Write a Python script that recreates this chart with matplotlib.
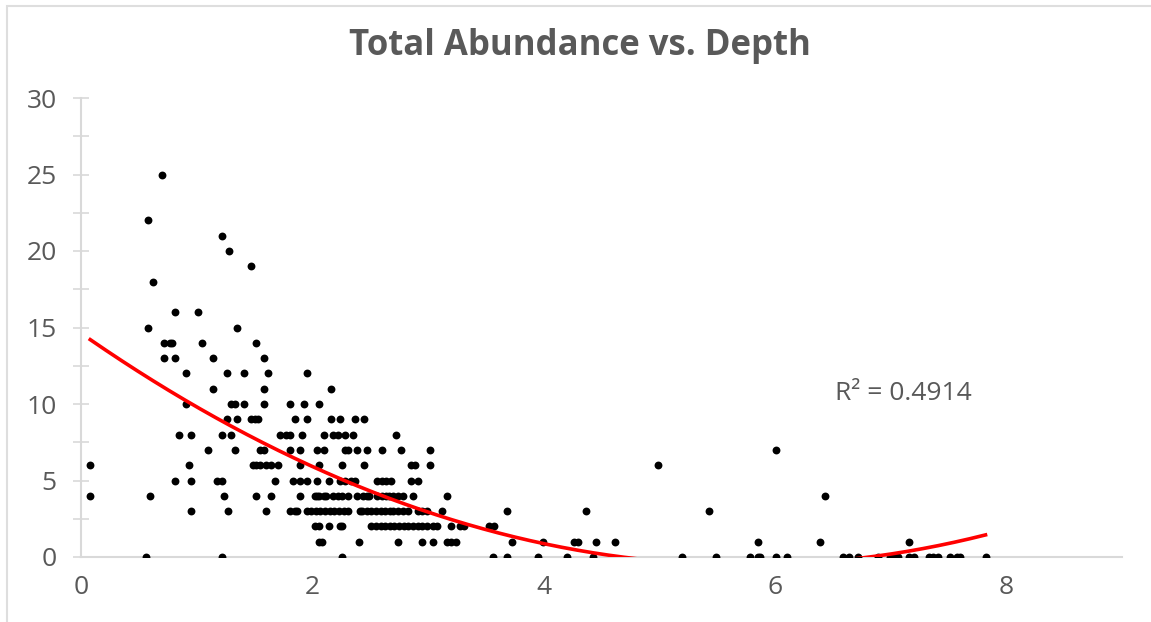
import numpy as np
import matplotlib
matplotlib.use("Agg")
import matplotlib.pyplot as plt
from matplotlib.patches import Rectangle

# ---------------- data (depth values grouped by abundance level) ----------------
levels = [25, 22, 21, 20, 19, 18, 16, 15, 14, 13, 12, 11, 10, 9, 8, 7, 6, 5, 4, 3, 2, 1, 0]

d25 = [0.70]
d22 = [0.58]
d21 = [1.22]
d20 = [1.28]
d19 = [1.47]
d18 = [0.62]
d16 = [0.81, 1.01]
d15 = [0.58, 1.35]
d14 = [0.72, 0.77, 0.79, 1.05, 1.51]
d13 = [0.72, 0.81, 1.14, 1.58]
d12 = [0.91, 1.26, 1.41, 1.62, 1.95]
d11 = [1.14, 1.58, 2.16]
d10 = [0.91, 1.30, 1.33, 1.41, 1.58, 1.81, 1.93, 2.06]
d9 = [1.26, 1.35, 1.47, 1.50, 1.53, 1.85, 1.95, 2.16, 2.24, 2.37, 2.45]
d8 = [0.85, 0.95, 1.22, 1.30, 1.72, 1.77, 1.81, 1.91, 2.10, 2.18, 2.22, 2.28,
      2.35, 2.72]
d7 = [1.10, 1.33, 1.55, 1.58, 1.81, 1.89, 2.04, 2.10, 2.28, 2.31, 2.39, 2.47,
      2.60, 2.77, 3.02, 6.01]
d6 = [0.08, 0.93, 1.49, 1.51, 1.55, 1.60, 1.64, 1.70, 1.89, 2.06, 2.26, 2.45,
      2.85, 2.89, 3.02, 4.99]
d5 = [0.81, 0.95, 1.18, 1.22, 1.68, 1.83, 1.89, 1.95, 2.04, 2.14, 2.24, 2.28,
      2.33, 2.37, 2.56, 2.60, 2.64, 2.68, 2.85, 2.91]
d4 = [0.08, 0.60, 1.24, 1.51, 1.64, 1.89, 2.02, 2.04, 2.06, 2.10, 2.12, 2.18,
      2.22, 2.26, 2.31, 2.39, 2.44, 2.47, 2.49, 2.56, 2.60, 2.64, 2.66, 2.70,
      2.74, 2.78, 2.87, 3.16, 6.43]
d3 = [0.95, 1.27, 1.60, 1.81, 1.85, 1.87, 1.95, 1.99, 2.03, 2.07, 2.11, 2.15,
      2.19, 2.23, 2.27, 2.31, 2.41, 2.43, 2.47, 2.51, 2.55, 2.59, 2.63, 2.67,
      2.70, 2.74, 2.78, 2.83, 2.91, 2.95, 2.99, 3.12, 3.68, 4.37, 5.43]
d2 = [2.02, 2.06, 2.14, 2.24, 2.26, 2.51, 2.55, 2.59, 2.63, 2.67, 2.71, 2.75,
      2.79, 2.83, 2.87, 2.91, 2.95, 2.99, 3.04, 3.08, 3.20, 3.28, 3.31, 3.53,
      3.57]
d1 = [2.06, 2.08, 2.40, 2.74, 2.95, 3.04, 3.16, 3.20, 3.24, 3.73, 3.99, 4.26,
      4.30, 4.45, 4.62, 5.85, 6.39, 7.16]
d0 = [0.56, 1.22, 2.26, 3.56, 3.68, 3.95, 4.20, 4.43, 5.20, 5.49, 5.78, 5.85,
      5.87, 6.01, 6.10, 6.59, 6.64, 6.72, 6.89, 6.99, 7.03, 7.06, 7.16, 7.20,
      7.33, 7.37, 7.41, 7.51, 7.57, 7.60, 7.82]

depth_groups = [d25, d22, d21, d20, d19, d18, d16, d15, d14, d13, d12, d11,
                d10, d9, d8, d7, d6, d5, d4, d3, d2, d1, d0]

# order-2 polynomial trendline coefficients (a, b, c)
trend_coef = [0.4586, -5.272, 14.626]

title_text = "Total Abundance vs. Depth"
r2_label = "R² = 0.4914"
x_ticks = [0, 2, 4, 6, 8]
y_ticks = [0, 5, 10, 15, 20, 25, 30]

depth = np.concatenate([np.asarray(g, float) for g in depth_groups])
abundance = np.concatenate([np.full(len(g), lv, float)
                            for g, lv in zip(depth_groups, levels)])

# ---------------- figure ----------------
W, H = 1151, 622
fig = plt.figure(figsize=(W / 100, H / 100), dpi=100)
fig.patch.set_facecolor("white")

# chart border (top and left visible)
fig.add_artist(Rectangle((7 / W, -0.01), 1.02, (H - 6) / H + 0.01,
                         transform=fig.transFigure, fill=False,
                         edgecolor="#dedede", linewidth=1.5))

ax = fig.add_axes([81 / W, (H - 557) / H, 1041 / W, 459 / H])
ax.set_xlim(0, 9)
ax.set_ylim(0, 30)

grey = "#595959"
axis_grey = "#d9d9d9"

ax.scatter(depth, abundance, s=32, color="black", zorder=3, linewidths=0)

xs = np.linspace(depth.min(), depth.max(), 400)
ax.plot(xs, np.polyval(trend_coef, xs), color="#ff0000", linewidth=2.6,
        zorder=4)

ax.text(6.52, 10.7, r2_label, fontsize=19, color=grey, family="Open Sans",
        va="center", ha="left")

for s in ["top", "right"]:
    ax.spines[s].set_visible(False)
for s in ["left", "bottom"]:
    ax.spines[s].set_color(axis_grey)
    ax.spines[s].set_linewidth(1.5)

ax.set_xticks(x_ticks)
ax.set_yticks(y_ticks)
ax.set_yticks(np.arange(0, 30.1, 2.5), minor=True)
ax.tick_params(axis="x", length=0, pad=13, labelsize=19, labelcolor=grey)
ax.tick_params(axis="y", which="both", direction="inout", length=11,
               width=1.2, color=axis_grey, pad=12, labelsize=19,
               labelcolor=grey)
for lab in ax.get_xticklabels() + ax.get_yticklabels():
    lab.set_family("Open Sans")

fig.text(580 / W, 1 - 46 / H, title_text, ha="center", va="center",
         fontsize=25, fontweight="bold", color=grey, family="Open Sans")

fig.savefig("out.png", dpi=100, facecolor="white")
